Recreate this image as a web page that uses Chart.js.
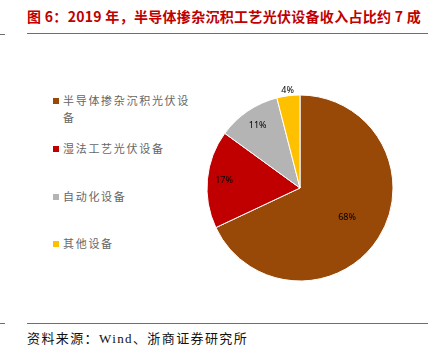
<!DOCTYPE html>
<html>
<head>
<meta charset="utf-8">
<script src="https://cdn.jsdelivr.net/npm/chart.js@4.4.1/dist/chart.umd.min.js"></script>
<style>
  html, body { margin: 0; padding: 0; background: #fff; }
  body { width: 437px; height: 351px; position: relative; overflow: hidden; font-family: "Noto Sans CJK SC", sans-serif; }
  .title { position: absolute; left: 27px; top: 6px; font-size: 14px; font-weight: bold; color: #C00000; white-space: nowrap; letter-spacing: 0.3px; }
  .rule { position: absolute; left: 27px; width: 401px; height: 1px; background: #6e6e6e; }
  .tick { position: absolute; left: 0; width: 5px; height: 1px; background: #6e6e6e; }
  .source { position: absolute; left: 27px; top: 328px; font-size: 13px; color: #111; font-family: "Liberation Serif", "Noto Sans CJK SC", serif; white-space: nowrap; letter-spacing: 1.4px; }
  #legend { position: absolute; left: 53px; top: 92px; width: 160px; }
  .item { position: absolute; left: 0; width: 150px; padding-left: 10px; font-size: 11px; line-height: 17px; color: #666; letter-spacing: 1.7px; white-space: nowrap; }
  .item i { position: absolute; left: 0; top: 6px; width: 6px; height: 6px; }
  #wrap { position: absolute; left: 190px; top: 78px; width: 220px; height: 220px; }
</style>
</head>
<body>
<div class="title">图 6：2019 年，半导体掺杂沉积工艺光伏设备收入占比约 7 成</div>
<div class="rule" style="top:33px"></div>
<div class="tick" style="top:34px"></div>
<div id="legend"></div>
<div id="wrap"><canvas id="pie"></canvas></div>
<div class="rule" style="top:323px"></div>
<div class="tick" style="top:323px"></div>
<div class="source">资料来源：Wind、浙商证券研究所</div>
<script>
// 2019 光伏设备收入结构
const categories = ['半导体掺杂沉积光伏设备', '湿法工艺光伏设备', '自动化设备', '其他设备'];
const shares = [68, 17, 11, 4];
const colors = ['#984807', '#C00000', '#B4B4B4', '#FFC000'];

// legend built by hand (labels wrap at 10 chars like the original)
const legendTops = [0, 48, 96, 143];
const maxChars = 10;
const legend = document.getElementById('legend');
categories.forEach((c, i) => {
  const d = document.createElement('div');
  d.className = 'item';
  d.style.top = legendTops[i] + 'px';
  const txt = c.length > maxChars ? c.slice(0, maxChars) + '<br>' + c.slice(maxChars) : c;
  d.innerHTML = `<i style="background:${colors[i]}"></i>${txt}`;
  legend.appendChild(d);
});

// percent labels: inside for big slices, outside for the tiny one
const labelRadius = [0.6, 0.82, 0.81, 1.06];
const pctLabels = {
  id: 'pctLabels',
  afterDatasetsDraw(chart) {
    const ctx = chart.ctx;
    const meta = chart.getDatasetMeta(0);
    ctx.save();
    ctx.font = '9px "Noto Sans", sans-serif';
    ctx.fillStyle = '#000';
    ctx.textAlign = 'center';
    ctx.textBaseline = 'middle';
    meta.data.forEach((arc, i) => {
      const p = arc.getProps(['x', 'y', 'startAngle', 'endAngle', 'outerRadius'], true);
      const mid = (p.startAngle + p.endAngle) / 2;
      const r = p.outerRadius * labelRadius[i];
      ctx.fillText(shares[i] + '%', p.x + Math.cos(mid) * r, p.y + Math.sin(mid) * r);
    });
    ctx.restore();
  }
};

new Chart(document.getElementById('pie'), {
  type: 'pie',
  data: {
    labels: categories,
    datasets: [{
      data: shares,
      backgroundColor: colors,
      borderColor: '#fff',
      borderWidth: 1
    }]
  },
  options: {
    responsive: true,
    maintainAspectRatio: false,
    animation: false,
    layout: { padding: 16.5 },
    plugins: {
      legend: { display: false },
      tooltip: { enabled: false }
    }
  },
  plugins: [pctLabels]
});
</script>
</body>
</html>
